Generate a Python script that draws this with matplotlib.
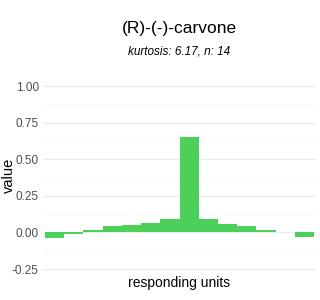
import numpy as np
import matplotlib
matplotlib.use("Agg")
import matplotlib.pyplot as plt

plt.rcParams['font.family'] = ['Liberation Sans', 'DejaVu Sans']

title = "(R)-(-)-carvone"
subtitle = "kurtosis: 6.17, n: 14"
units = np.arange(1, 15)
values = [-0.041, -0.012, 0.016, 0.042, 0.053, 0.067, 0.094,
          0.653, 0.094, 0.060, 0.046, 0.016, 0.0, -0.034]
yticks = [-0.25, 0.0, 0.25, 0.5, 0.75, 1.0]

fig = plt.figure(figsize=(3.2, 3.0), dpi=100)
# panel: x 43..316 px, y 77..272 px (from top)
ax = fig.add_axes([43 / 320, 28 / 300, 273 / 320, 195 / 300])

ax.bar(units, values, width=1.0, color="#4cd05a", zorder=2)

# keep -0.25 at ~269 px and 1.00 at ~87 px
ax.set_ylim(-0.27, 1.0625)
ax.set_xlim(0.4, 14.6)
ax.set_yticks(yticks)
ax.set_yticklabels(["-0.25", "0.00", "0.25", "0.50", "0.75", "1.00"])
ax.set_yticks([-0.125, 0.125, 0.375, 0.625, 0.875], minor=True)
ax.set_xticks([])
ax.grid(axis="y", which="major", color="#ebebeb", linewidth=0.8, zorder=0)
ax.grid(axis="y", which="minor", color="#f5f5f5", linewidth=0.5, zorder=0)
ax.tick_params(axis="y", which="both", length=0, labelsize=8.5,
               labelcolor="#4d4d4d", pad=3)
for s in ax.spines.values():
    s.set_visible(False)

ax.set_xlabel("responding units", fontsize=10, labelpad=3)
fig.text(9 / 320, 1 - 175 / 300, "value", rotation=90, ha="center",
         va="center", fontsize=10.5)

cx = (43 + 316) / 2 / 320
fig.text(cx, 1 - 29 / 300, title, ha="center", va="center", fontsize=12.5)
fig.text(cx, 1 - 51 / 300, subtitle, ha="center", va="center",
         fontsize=8.5, style="italic")

plt.savefig("out.png", dpi=100)
